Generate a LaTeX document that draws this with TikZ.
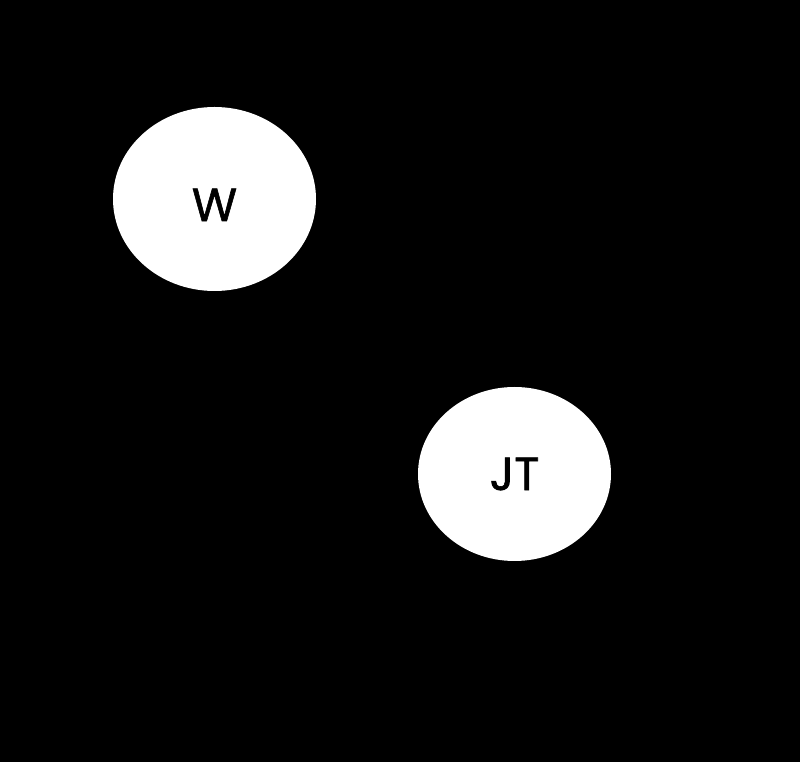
\documentclass[tikz,border=0pt]{standalone}
\usepackage{fontspec}
\setmainfont{Poppins}[FakeBold=1.2]
\usetikzlibrary{shapes.geometric}
\tikzset{bubble/.style={ellipse,fill=white,draw=none,inner sep=0pt,font=\fontsize{33}{40}\selectfont}}

\begin{document}
\begin{tikzpicture}
                    \fill[black] (0,0) rectangle (20,19.05);
                    \node[bubble,minimum width=5.075cm,minimum height=4.6cm,text depth=0pt,text height=1.1cm] (w) at (5.3625,14.075) {W};
                    \node[bubble,minimum width=4.825cm,minimum height=4.35cm] (jt) at (12.8625,7.2) {JT};
                \end{tikzpicture}
\end{document}
